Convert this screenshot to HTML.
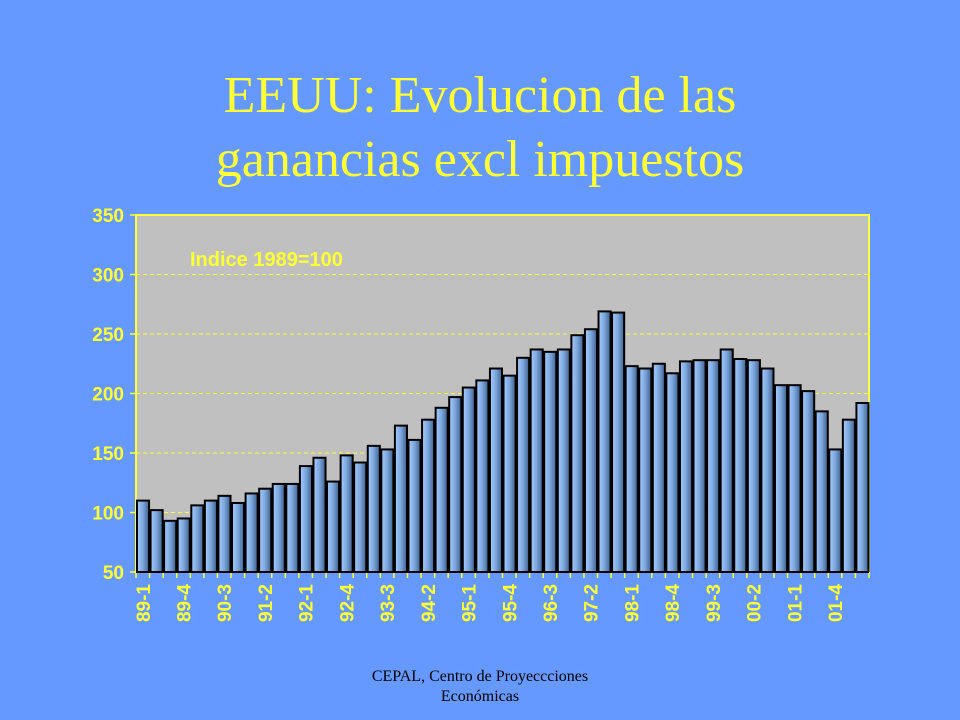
<!DOCTYPE html>
<html><head><meta charset="utf-8"><style>
body{margin:0;width:960px;height:720px;background:#6699FF;overflow:hidden;font-family:"Liberation Serif",serif}
.t{position:absolute;left:0;width:960px;text-align:center;color:#FFFF33;font-size:52px;line-height:64px}
.f{position:absolute;left:0;width:960px;text-align:center;color:#000;font-size:16px;line-height:20px;top:667px}
</style></head><body>
<div class="t" style="top:64px">EEUU: Evolucion de las<br>ganancias excl impuestos</div>
<svg id="c" width="960" height="720" style="position:absolute;left:0;top:0">
<defs><linearGradient id="g" x1="0" x2="1"><stop offset="0" stop-color="#a8ccff"/><stop offset="0.5" stop-color="#7aa6dc"/><stop offset="1" stop-color="#3f5f8c"/></linearGradient></defs>
</svg>
<div class="f">CEPAL, Centro de Proyeccciones<br>Económicas</div>
<script>
const values=[110,102,93,95,106,110,114,108,116,120,124,124,139,146,126,148,142,156,153,173,161,178,188,197,205,211,221,215,230,237,235,237,249,254,269,268,223,221,225,217,227,228,228,237,229,228,221,207,207,202,185,153,178,192];
const tickLabels=["89-1","89-4","90-3","91-2","92-1","92-4","93-3","94-2","95-1","95-4","96-3","97-2","98-1","98-4","99-3","00-2","01-1","01-4"];
const yTicks=[50,100,150,200,250,300,350];
const svg=document.getElementById('c');const NS='http://www.w3.org/2000/svg';
const L=136,R=869,T=215,B=572,ymin=50,ymax=350;
const y=v=>B-(v-ymin)/(ymax-ymin)*(B-T);
const bw=(R-L)/values.length;const x=i=>L+i*bw;
function mk(t,a){const e=document.createElementNS(NS,t);for(const k in a)e.setAttribute(k,a[k]);svg.appendChild(e);return e;}
let e=mk('rect',{x:L,y:T,width:R-L,height:B-T,fill:'#C0C0C0',stroke:'#FFFF33','stroke-width':2});

yTicks.forEach(v=>{
 if(v>ymin&&v<ymax){const g=mk('line',{x1:L,x2:R,y1:y(v),y2:y(v),stroke:'#FFFF33','stroke-dasharray':'4,3','stroke-width':1});
 }
 const tk=mk('line',{x1:L-6,x2:L,y1:y(v),y2:y(v),stroke:'#FFFF33','stroke-width':1.5});
 
 const t=mk('text',{x:L-12,y:y(v)+7,'text-anchor':'end',fill:'#FFFF33','font-family':'Liberation Sans, sans-serif','font-weight':'bold','font-size':19});
 t.textContent=v;
});
values.forEach((v,i)=>{
 const r=mk('rect',{x:x(i)+1,y:y(v),width:bw-1.5,height:B-y(v),fill:'url(#g)',stroke:'#000','stroke-width':2});
 
});
for(let i=0;i<=values.length;i++){const tk=mk('line',{x1:x(i),x2:x(i),y1:B,y2:B+6,stroke:'#FFFF33','stroke-width':1.5});
 }
e=mk('line',{x1:L,x2:R,y1:B,y2:B,stroke:'#000','stroke-width':2});
tickLabels.forEach((s,k)=>{const cx=x(k*3)+bw/2+7;
 const t=mk('text',{x:cx,y:B+12,'text-anchor':'end',fill:'#FFFF33','font-family':'Liberation Sans, sans-serif','font-weight':'bold','font-size':19,transform:`rotate(-90 ${cx} ${B+12})`});
 t.textContent=s;});
e=mk('text',{x:190,y:266,fill:'#FFFF33','font-family':'Liberation Sans, sans-serif','font-weight':'bold','font-size':20});
e.textContent='Indice 1989=100';
</script>
</body></html>
